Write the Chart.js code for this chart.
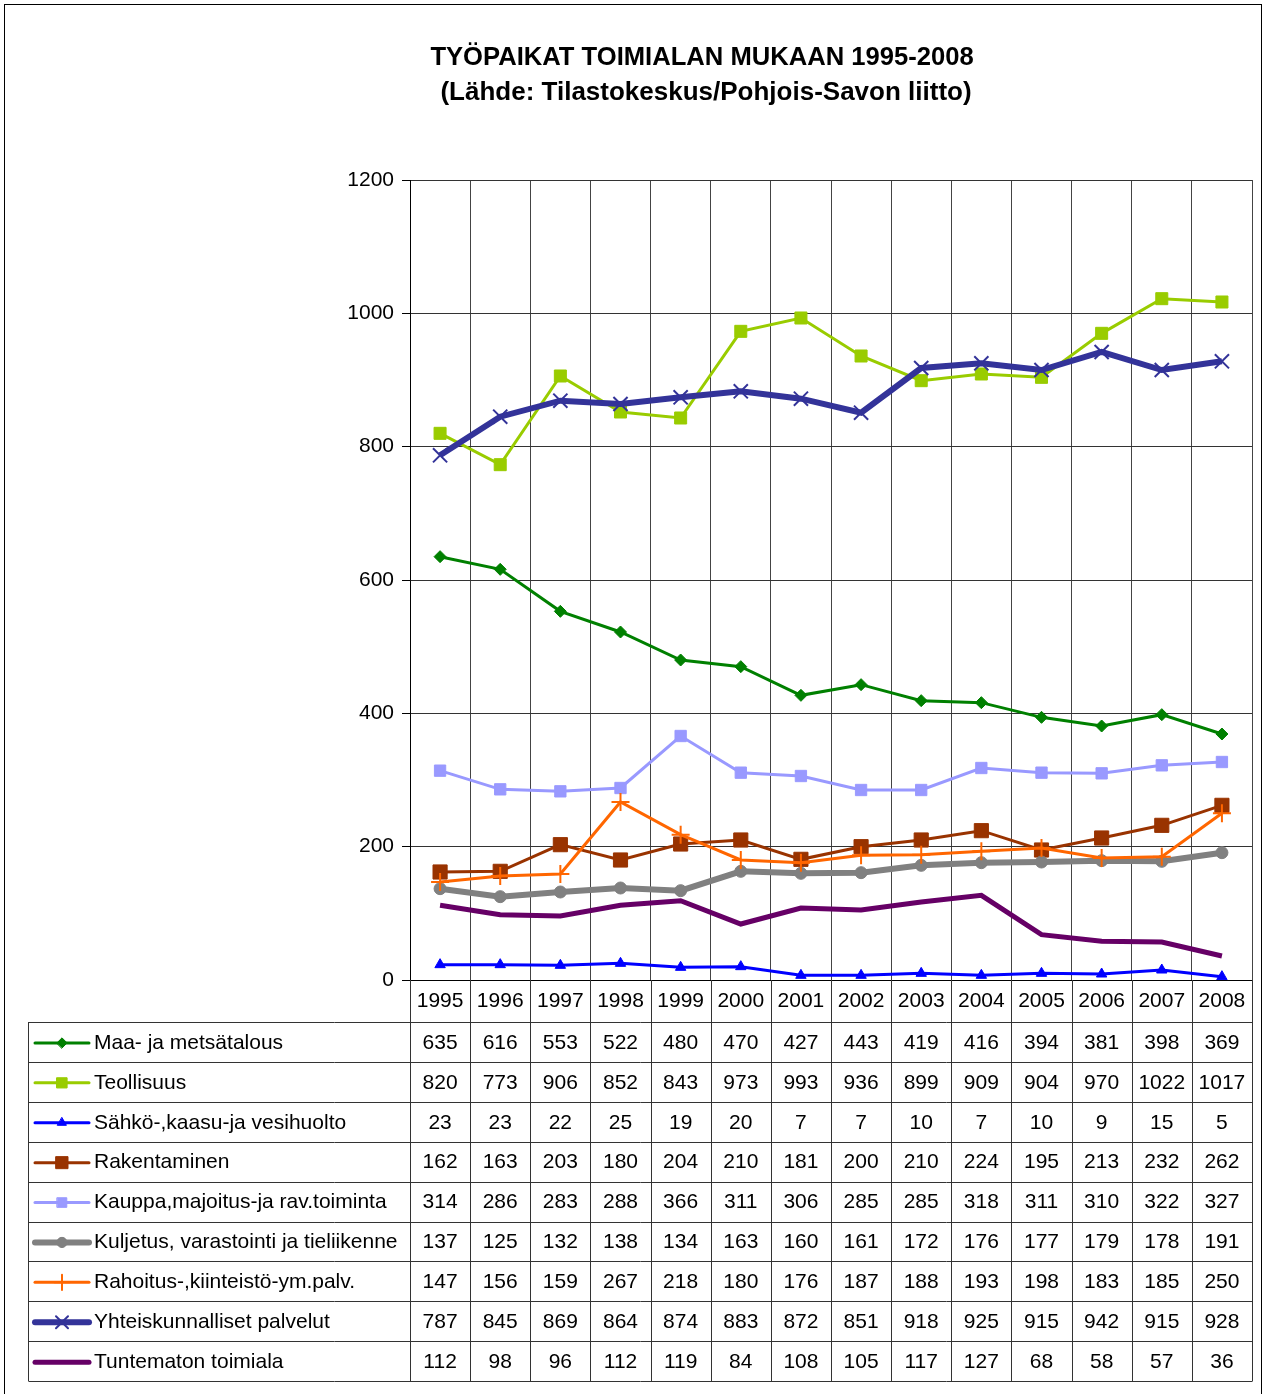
<!DOCTYPE html>
<html>
<head>
<meta charset="utf-8">
<title>Työpaikat toimialan mukaan 1995-2008</title>
<script src="https://cdn.jsdelivr.net/npm/chart.js@4/dist/chart.umd.min.js"></script>
<style>
  html, body { margin: 0; padding: 0; background: #fff; }
  #wrap { position: relative; width: 1266px; height: 1394px; }
</style>
</head>
<body>
<div id="wrap"><canvas id="jobs" width="1266" height="1394"></canvas></div>
<script>
// ----- Data -----
const years = ['1995','1996','1997','1998','1999','2000','2001','2002','2003','2004','2005','2006','2007','2008'];
const yTicks = [0, 200, 400, 600, 800, 1000, 1200];

const seriesNames = [
  'Maa- ja metsätalous',
  'Teollisuus',
  'Sähkö-,kaasu-ja vesihuolto',
  'Rakentaminen',
  'Kauppa,majoitus-ja rav.toiminta',
  'Kuljetus, varastointi ja tieliikenne',
  'Rahoitus-,kiinteistö-ym.palv.',
  'Yhteiskunnalliset palvelut',
  'Tuntematon toimiala'
];

const maaMetsa     = [635, 616, 553, 522, 480, 470, 427, 443, 419, 416, 394, 381, 398, 369];
const teollisuus   = [820, 773, 906, 852, 843, 973, 993, 936, 899, 909, 904, 970, 1022, 1017];
const sahkoKaasu   = [23, 23, 22, 25, 19, 20, 7, 7, 10, 7, 10, 9, 15, 5];
const rakentaminen = [162, 163, 203, 180, 204, 210, 181, 200, 210, 224, 195, 213, 232, 262];
const kauppa       = [314, 286, 283, 288, 366, 311, 306, 285, 285, 318, 311, 310, 322, 327];
const kuljetus     = [137, 125, 132, 138, 134, 163, 160, 161, 172, 176, 177, 179, 178, 191];
const rahoitus     = [147, 156, 159, 267, 218, 180, 176, 187, 188, 193, 198, 183, 185, 250];
const yhteiskunta  = [787, 845, 869, 864, 874, 883, 872, 851, 918, 925, 915, 942, 915, 928];
const tuntematon   = [112, 98, 96, 112, 119, 84, 108, 105, 117, 127, 68, 58, 57, 36];

const seriesValues = [maaMetsa, teollisuus, sahkoKaasu, rakentaminen, kauppa, kuljetus, rahoitus, yhteiskunta, tuntematon];

// ----- Styles -----
const styles = [
  { color: '#008000', width: 3, point: 'rectRot',  radius: 6,   pbw: 1 },
  { color: '#99CC00', width: 3, point: 'rect',     radius: 8.5, pbw: 1 },
  { color: '#0000FF', width: 3, point: 'triangle', radius: 6,   pbw: 1 },
  { color: '#993300', width: 3, point: 'rect',     radius: 10,  pbw: 1 },
  { color: '#9999FF', width: 3, point: 'rect',     radius: 8,   pbw: 1 },
  { color: '#808080', width: 6, point: 'circle',   radius: 6,   pbw: 1 },
  { color: '#FF6600', width: 3, point: 'cross',    radius: 9,   pbw: 2 },
  { color: '#333399', width: 6, point: 'crossRot', radius: 10,  pbw: 2 },
  { color: '#660066', width: 5, point: false,      radius: 0,   pbw: 0 }
];

const FONT = '"Liberation Sans", Arial, sans-serif';
Chart.defaults.font.family = FONT;
Chart.defaults.color = '#000';

// ----- Title + frame -----
const framePlugin = {
  id: 'frame',
  beforeDraw(chart) {
    const ctx = chart.ctx;
    ctx.save();
    ctx.fillStyle = '#fff';
    ctx.fillRect(0, 0, chart.width, chart.height);
    ctx.strokeStyle = '#000';
    ctx.lineWidth = 1;
    ctx.strokeRect(4.5, 4.5, 1257, 1420);
    ctx.fillStyle = '#000';
    ctx.textAlign = 'center';
    ctx.textBaseline = 'middle';
    ctx.font = 'bold 25.6px ' + FONT;
    ctx.fillText('TYÖPAIKAT TOIMIALAN MUKAAN 1995-2008', 702, 58);
    ctx.font = 'bold 26px ' + FONT;
    ctx.fillText('(Lähde: Tilastokeskus/Pohjois-Savon liitto)', 706, 93);
    ctx.restore();
  }
};

// ----- Data table below the plot (columns follow the x scale) -----
const tablePlugin = {
  id: 'dataTable',
  afterDraw(chart) {
    const ctx = chart.ctx, xs = chart.scales.x, area = chart.chartArea;
    const step = xs.getPixelForValue(1) - xs.getPixelForValue(0);
    const edges = years.map((_, i) => xs.getPixelForValue(i) - step / 2);
    edges.push(xs.getPixelForValue(years.length - 1) + step / 2);
    const headTop = area.bottom, tableTop = area.bottom + 42, rowH = 39.9;
    const tableBottom = tableTop + rowH * seriesNames.length;
    const tableLeft = 28.5;

    ctx.save();
    ctx.lineWidth = 1;
    ctx.strokeStyle = '#333';
    // vertical separators
    edges.forEach(x => {
      const px = Math.round(x) + 0.5;
      ctx.beginPath(); ctx.moveTo(px, headTop); ctx.lineTo(px, tableBottom); ctx.stroke();
    });
    ctx.beginPath(); ctx.moveTo(tableLeft, tableTop); ctx.lineTo(tableLeft, tableBottom); ctx.stroke();
    // horizontal separators
    for (let r = 0; r <= seriesNames.length; r++) {
      const py = Math.round(tableTop + r * rowH) + 0.5;
      ctx.beginPath(); ctx.moveTo(tableLeft, py); ctx.lineTo(Math.round(edges[edges.length - 1]) + 0.5, py); ctx.stroke();
    }

    ctx.fillStyle = '#000';
    ctx.font = '21px ' + FONT;
    ctx.textBaseline = 'middle';
    ctx.textAlign = 'center';
    // year header
    years.forEach((y, i) => ctx.fillText(y, xs.getPixelForValue(i), (headTop + tableTop) / 2));

    // rows
    seriesNames.forEach((name, r) => {
      const cy = tableTop + r * rowH + rowH / 2 + 1;
      const s = styles[r];
      ctx.strokeStyle = s.color;
      ctx.lineWidth = s.width;
      ctx.lineCap = 'round';
      ctx.beginPath(); ctx.moveTo(35, cy); ctx.lineTo(89, cy); ctx.stroke();
      if (s.point && Chart.helpers && Chart.helpers.drawPoint) {
        ctx.fillStyle = s.color;
        ctx.lineWidth = s.pbw;
        Chart.helpers.drawPoint(ctx, { pointStyle: s.point, radius: s.radius * 0.85, borderWidth: s.pbw, rotation: 0 }, 62, cy);
      }
      ctx.fillStyle = '#000';
      ctx.textAlign = 'left';
      ctx.fillText(name, 94, cy);
      ctx.textAlign = 'center';
      seriesValues[r].forEach((v, i) => ctx.fillText(String(v), xs.getPixelForValue(i), cy));
    });
    ctx.restore();
  }
};

const datasets = seriesNames.map((name, i) => ({
  label: name,
  data: seriesValues[i],
  borderColor: styles[i].color,
  backgroundColor: styles[i].color,
  borderWidth: styles[i].width,
  pointStyle: styles[i].point,
  pointRadius: styles[i].radius,
  pointBorderWidth: styles[i].pbw,
  pointBackgroundColor: styles[i].color,
  pointBorderColor: styles[i].color,
  tension: 0,
  order: seriesNames.length - i
}));

new Chart(document.getElementById('jobs'), {
  type: 'line',
  data: { labels: years, datasets },
  options: {
    responsive: false,
    animation: false,
    layout: { padding: { left: 0, top: 180, right: 14, bottom: 414 } },
    plugins: { legend: { display: false }, title: { display: false }, tooltip: { enabled: false } },
    scales: {
      x: {
        offset: true,
        ticks: { display: false },
        grid: { offset: true, color: '#444', lineWidth: 1, drawTicks: false },
        border: { display: true, color: '#000', width: 1 },
        afterFit: s => { s.height = 0; }
      },
      y: {
        min: 0, max: 1200,
        afterBuildTicks: s => { s.ticks = yTicks.map(v => ({ value: v })); },
        ticks: { font: { size: 21 }, color: '#000', padding: 8, callback: v => String(v) },
        grid: { color: '#333', lineWidth: 1, tickLength: 8, tickColor: '#000' },
        border: { display: true, color: '#000', width: 1 },
        afterFit: s => { s.width = 410; }
      }
    }
  },
  plugins: [framePlugin, tablePlugin]
});
</script>
</body>
</html>
